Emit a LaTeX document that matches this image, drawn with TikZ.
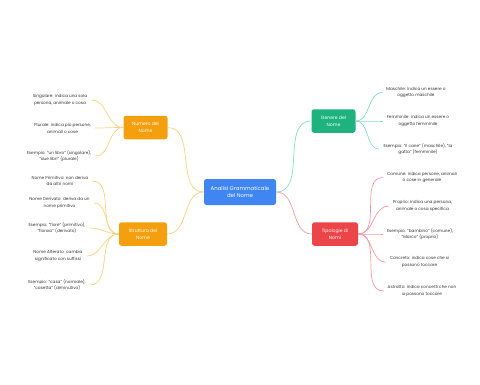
\documentclass[tikz,border=0pt]{standalone}
\usepackage{fontspec}
\setmainfont{Poppins}
\usepackage{tikz}
\usetikzlibrary{positioning}
\definecolor{rootblk}{HTML}{3F86F2}
\definecolor{numblk}{HTML}{F4A00E}
\definecolor{genblk}{HTML}{1EB27E}
\definecolor{tipblk}{HTML}{EC4549}
\definecolor{numlight}{HTML}{F8D27E}
\definecolor{genlight}{HTML}{86DCC2}
\definecolor{tiplight}{HTML}{F39AA0}
\definecolor{leaftxt}{HTML}{333333}
\tikzset{
  root/.style    = {fill=rootblk,rounded corners=2.5pt,minimum width=72pt,
                    minimum height=26pt,text=white,align=center,
                    font=\fontsize{5.4}{7.5}\selectfont},
  topic/.style   = {rounded corners=2.5pt,minimum width=44pt,
                    minimum height=23.5pt,text=white,align=center,
                    font=\fontsize{4.6}{7}\selectfont},
  numb/.style    = {topic,fill=numblk},
  genb/.style    = {topic,fill=genblk},
  tipb/.style    = {topic,fill=tipblk},
  leaf/.style    = {align=center,text=leaftxt,inner ysep=1pt,inner xsep=4pt,
                    font=\fontsize{4.2}{6.8}\selectfont},
  numlink/.style = {draw=numlight,line width=0.7pt},
  genlink/.style = {draw=genlight,line width=0.7pt},
  tiplink/.style = {draw=tiplight,line width=0.7pt},
}

\begin{document}
\begin{tikzpicture}[x=1pt,y=-1pt]
  \useasboundingbox (0,0) rectangle (480,384);

  \node[root] (root) at (240,192) {Analisi Grammaticale\\del Nome};

  \node[numb] (numero)    at (145.5,127.5) {Numero del\\Nome};
  \node[numb,minimum width=48pt] (struttura) at (143,234) {Struttura del\\Nome};
  \node[genb] (genere)    at (333.5,121) {Genere del\\Nome};
  \node[tipb,minimum width=46pt] (tipologie) at (335,234) {Tipologie di\\Nomi};

  % numero
  \node[leaf] (n1) at (60,100)   {Singolare: indica una sola\\persona, animale o cosa};
  \node[leaf] (n2) at (62.5,128) {Plurale: indica più persone,\\animali o cose};
  \node[leaf] (n3) at (59,156)   {Esempio: "un libro" (singolare),\\"due libri" (plurale)};

  % struttura
  \node[leaf] (s1) at (60,181)   {Nome Primitivo: non deriva\\da altri nomi};
  \node[leaf] (s2) at (59.5,203) {Nome Derivato: deriva da un\\nome primitivo};
  \node[leaf] (s3) at (57,228)   {Esempio: "fiore" (primitivo),\\"fioraio" (derivato)};
  \node[leaf] (s4) at (58,256)   {Nome Alterato: cambia\\significato con suffissi};
  \node[leaf] (s5) at (57,285)   {Esempio: "casa" (normale),\\"casetta" (diminutivo)};

  % genere
  \node[leaf] (g1) at (416,92.5) {Maschile: indica un essere o\\oggetto maschile};
  \node[leaf] (g2) at (418,121)  {Femminile: indica un essere o\\oggetto femminile};
  \node[leaf] (g3) at (418,149)  {Esempio: "il cane" (maschile), "la\\gatta" (femminile)};

  % tipologie
  \node[leaf] (t1) at (422,177.5) {Comune: indica persone, animali\\o cose in generale};
  \node[leaf] (t2) at (422.5,206) {Proprio: indica una persona,\\animale o cosa specifica};
  \node[leaf] (t3) at (420,234)   {Esempio: "bambino" (comune),\\"Marco" (proprio)};
  \node[leaf] (t4) at (419.5,262) {Concreto: indica cose che si\\possono toccare};
  \node[leaf] (t5) at (422,291)   {Astratto: indica concetti che non\\si possono toccare};

  \draw[numlink] (root.west) to[out=180,in=0] (numero.east);
  \draw[numlink] (root.west) to[out=180,in=0] (struttura.east);
  \draw[genlink] (root.east) to[out=0,in=180] (genere.west);
  \draw[tiplink] (root.east) to[out=0,in=180] (tipologie.west);

  \foreach \l in {n1,n2,n3}
    \draw[numlink] (numero.west) to[out=180,in=0] (\l.east);
  \foreach \l in {s1,s2,s3,s4,s5}
    \draw[numlink] (struttura.west) to[out=180,in=0] (\l.east);
  \foreach \l in {g1,g2,g3}
    \draw[genlink] (genere.east) to[out=0,in=180] (\l.west);
  \foreach \l in {t1,t2,t3,t4,t5}
    \draw[tiplink] (tipologie.east) to[out=0,in=180] (\l.west);
\end{tikzpicture}
\end{document}
